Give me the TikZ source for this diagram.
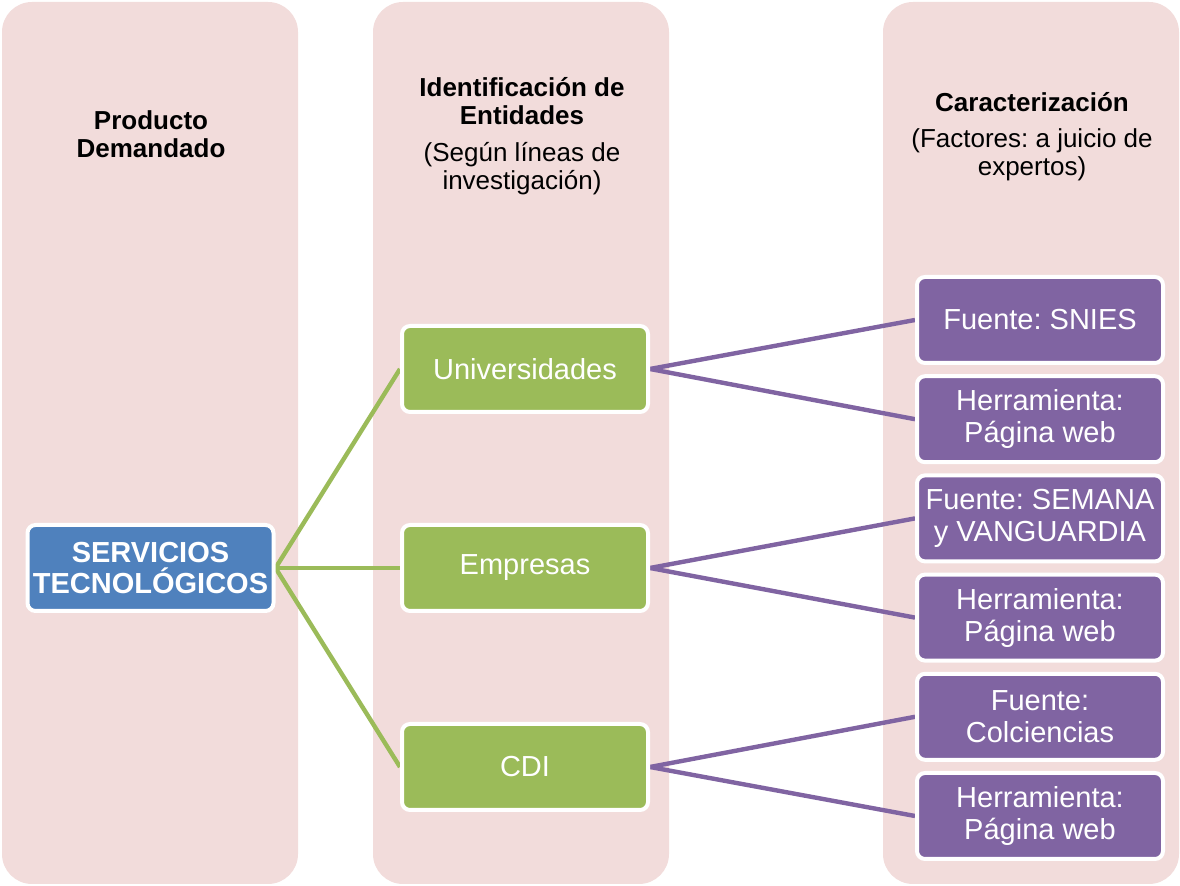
\documentclass[tikz,border=0pt]{standalone}
\usepackage{fontspec}
\setmainfont{Liberation Sans}
\usetikzlibrary{positioning}
\definecolor{rosa}{HTML}{F2DCDB}
\definecolor{azul}{HTML}{4F81BD}
\definecolor{verde}{HTML}{9BBB59}
\definecolor{morado}{HTML}{8064A2}
\pgfdeclarelayer{fondo}
\pgfdeclarelayer{enlaces}
\pgfsetlayers{fondo,enlaces,main}
\frenchspacing
\tikzset{
        columna/.style={fill=rosa, rounded corners=15pt, minimum width=148pt,
                        minimum height=441pt, inner sep=0pt},
        titulo/.style={align=center, font=\bfseries\fontsize{13}{14}\selectfont},
        nota/.style={align=center, font=\fontsize{13}{14}\selectfont},
        caja/.style={draw=white, line width=2pt, rounded corners=4pt,
                     text=white, align=center, minimum width=123pt,
                     minimum height=43pt, inner sep=1pt},
        producto/.style={caja, fill=azul, font=\bfseries\fontsize{14.5}{15.5}\selectfont},
        entidad/.style={caja, fill=verde, font=\fontsize{14.5}{16}\selectfont},
        factor/.style={caja, fill=morado, font=\fontsize{14.5}{16}\selectfont},
        ramaverde/.style={draw=verde, line width=2.2pt},
        ramamorada/.style={draw=morado, line width=2.2pt},
 }

\begin{document}
\begin{tikzpicture}[x=0.5pt, y=-0.5pt]
    \useasboundingbox (0,0) rectangle (1180,886);

    % columnas de fondo
    \begin{pgfonlayer}{fondo}
    \node[columna] (colA) at (150,443) {};
    \node[columna] (colB) at (521,443) {};
    \node[columna] (colC) at (1031,443) {};
    \end{pgfonlayer}

    % encabezados
    \node[titulo] (tA) at (151,134) {Producto\\Demandado};
    \node[titulo] (tB) at (522,101.5) {Identificación de\\Entidades};
    \node[nota] (sB) at (522,169) {(Según líneas de\\investigación)};
    \node[titulo] (tC) at (1032,102) {Caracterización};
    \node[nota] (sC) at (1032,154.5) {(Factores: a juicio de\\expertos)};

    % cajas
    \node[producto] (serv) at (150.5,568) {SERVICIOS\\TECNOLÓGICOS};
    \node[entidad] (uni) at (525,369) {Universidades};
    \node[entidad, below=54.5pt of uni] (emp) {Empresas};
    \node[entidad, below=54.5pt of emp] (cdi) {CDI};

    \node[factor] (f1) at (1040,320) {Fuente: SNIES};
    \node[factor, below=4.6pt of f1] (h1) {Herramienta:\\Página web};
    \node[factor, below=4.6pt of h1] (f2) {Fuente: SEMANA\\y VANGUARDIA};
    \node[factor, below=4.6pt of f2] (h2) {Herramienta:\\Página web};
    \node[factor, below=4.6pt of h2] (f3) {Fuente:\\Colciencias};
    \node[factor, below=4.6pt of f3] (h3) {Herramienta:\\Página web};

    % conexiones
    \begin{pgfonlayer}{enlaces}
    \foreach \e in {uni,emp,cdi}
        \draw[ramaverde] (serv.east) -- (\e.west);
    \foreach \e/\f/\h in {uni/f1/h1, emp/f2/h2, cdi/f3/h3}{
        \draw[ramamorada] (\e.east) -- (\f.west);
        \draw[ramamorada] (\e.east) -- (\h.west);
    }
    \end{pgfonlayer}
\end{tikzpicture}
\end{document}
